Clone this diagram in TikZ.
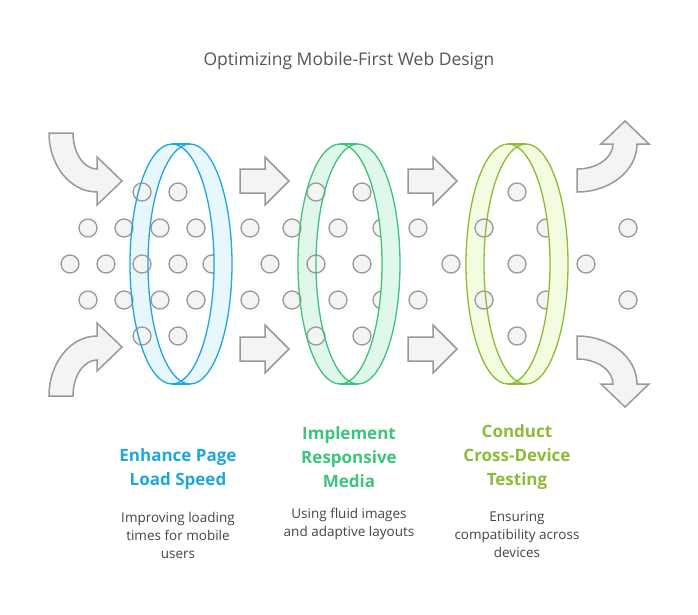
\documentclass[tikz,border=0pt]{standalone}
\usepackage{fontspec}
\setmainfont{Open Sans}
\usetikzlibrary{positioning}

\definecolor{dotgray}{HTML}{999999}
\definecolor{dotfill}{HTML}{F4F4F4}
\definecolor{blueline}{HTML}{1EA7DC}
\definecolor{bluefill}{HTML}{E8F7FD}
\definecolor{greenline}{HTML}{3CC47C}
\definecolor{greenfill}{HTML}{E0F8EC}
\definecolor{limeline}{HTML}{8CBC34}
\definecolor{limefill}{HTML}{F3FCE0}
\definecolor{titlegray}{HTML}{555555}
\definecolor{textgray}{HTML}{444444}

% ring band: #1 centre x, #2 fill
\newcommand{\ringband}[2]{
    \fill[#2] (#1-9,264) ellipse[x radius=42, y radius=120];
    \fill[#2] (#1+9,264) ellipse[x radius=42, y radius=120];
    \fill[#2] (#1-9,144) rectangle (#1+9,384);
    \begin{scope}
        \clip (#1-9,264) ellipse[x radius=42, y radius=120];
        \fill[white] (#1+9,264) ellipse[x radius=42, y radius=120];
    \end{scope}
}
% ring front: #1 centre x, #2 line, #3 fill
\newcommand{\ringfront}[3]{
    \begin{scope}
        \clip (#1,100) rectangle (#1+80,420);
        \fill[#3, even odd rule] (#1-9,264) ellipse[x radius=42, y radius=120]
            (#1+9,264) ellipse[x radius=42, y radius=120];
    \end{scope}
    \draw[#2, line width=1.3pt] (#1-9,264) ellipse[x radius=42, y radius=120];
    \draw[#2, line width=1.3pt] (#1+9,264) ellipse[x radius=42, y radius=120];
    \draw[#2, line width=1.3pt] (#1-9,144) -- (#1+9,144) (#1-9,384) -- (#1+9,384);
}

\begin{document}
\begin{tikzpicture}[x=1pt, y=-1pt,
    dot/.style = {draw=dotgray, fill=dotfill, line width=1.3pt},
    arrowshape/.style = {draw=dotgray, fill=dotfill, line width=1.5pt, line join=miter},
    head/.style = {font=\fontsize{17}{24}\selectfont\bfseries, align=center},
    desc/.style = {font=\fontsize{13.5}{18}\selectfont, text=textgray, align=center}]
    \useasboundingbox (0,0) rectangle (698,614);

    \node[text=titlegray, font=\fontsize{17.5}{22}\selectfont] (title) at (349,61) {Optimizing Mobile-First Web Design};

    \ringband{181}{bluefill}
    \ringband{349}{greenfill}
    \ringband{517}{limefill}

    % dots
    \foreach \x in {142,178,316,362,517} {
        \draw[dot] (\x,192) circle[radius=9];
        \draw[dot] (\x,336) circle[radius=9];
    }
    \foreach \x in {88,124,160,196,250,292,338,382,418,484,546,628} {
        \draw[dot] (\x,228) circle[radius=9];
        \draw[dot] (\x,300) circle[radius=9];
    }
    \foreach \x in {70,106,142,178,212,270,316,362,451,517,586}
        \draw[dot] (\x,264) circle[radius=9];

    \ringfront{181}{blueline}{bluefill}
    \ringfront{349}{greenline}{greenfill}
    \ringfront{517}{limeline}{limefill}

    % straight arrows
    \foreach \x in {240,408}
        \foreach \y in {181,349}
            \draw[arrowshape] (\x,\y-12) -- (\x+25,\y-12) -- (\x+25,\y-24) -- (\x+49,\y)
                -- (\x+25,\y+24) -- (\x+25,\y+12) -- (\x,\y+12) -- cycle;

    % curved arrows
    \draw[arrowshape] (49,133) -- (73,133) arc[start angle=180, end angle=90, x radius=24, y radius=36]
        -- (97,157) -- (122,181) -- (97,205) -- (97,192)
        arc[start angle=90, end angle=180, x radius=48, y radius=59] -- cycle;
    \draw[arrowshape] (49,396) -- (73,396) arc[start angle=180, end angle=270, x radius=24, y radius=36]
        -- (97,371) -- (122,347) -- (97,323) -- (97,336)
        arc[start angle=270, end angle=180, x radius=48, y radius=60] -- cycle;
    \draw[arrowshape] (577,169) -- (577,192) arc[start angle=90, end angle=0, x radius=60, y radius=48]
        -- (649,144) -- (625,121) -- (601,144) -- (613,144)
        arc[start angle=0, end angle=90, x radius=36, y radius=25] -- cycle;
    \draw[arrowshape] (577,359) -- (577,336) arc[start angle=270, end angle=360, x radius=60, y radius=48]
        -- (649,384) -- (625,407) -- (601,384) -- (613,384)
        arc[start angle=360, end angle=270, x radius=36, y radius=25] -- cycle;

    % labels
    \node[head, text=blueline] (speed) at (178,469) {Enhance Page\\Load Speed};
    \node[head, text=greenline] (media) at (349,457) {Implement\\Responsive\\Media};
    \node[head, text=limeline] (testing) at (517,457) {Conduct\\Cross-Device\\Testing};

    \node[desc] (speedtext) at (178,535) {Improving loading\\times for mobile\\users};
    \node[desc] (mediatext) at (349,524) {Using fluid images\\and adaptive layouts};
    \node[desc] (testingtext) at (517,535) {Ensuring\\compatibility across\\devices};
\end{tikzpicture}
\end{document}
